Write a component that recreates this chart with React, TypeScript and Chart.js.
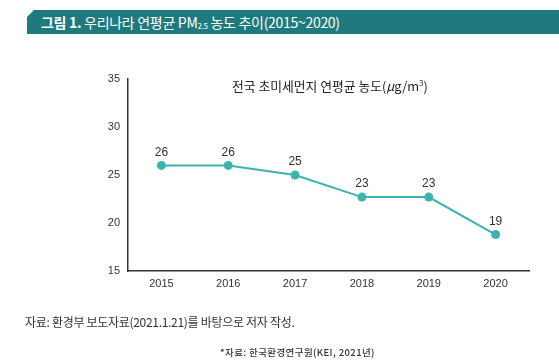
import React, { useEffect, useRef } from "react";
import { Chart, registerables } from "chart.js";

Chart.register(...registerables);

const years = ["2015", "2016", "2017", "2018", "2019", "2020"];
const pm25Values = [26, 26, 25, 22.7, 22.7, 18.8];
const pm25Labels = ["26", "26", "25", "23", "23", "19"];
const yTicks = [15, 20, 25, 30, 35];

const KR = "'Noto Sans CJK KR', 'Noto Sans', sans-serif";
const LAT = "'Liberation Sans', Arial, sans-serif";

const valueLabelPlugin = {
  id: "valueLabels",
  afterDatasetsDraw(chart: any) {
    const ctx = chart.ctx;
    const meta = chart.getDatasetMeta(0);
    ctx.save();
    ctx.font = "12px " + LAT;
    ctx.fillStyle = "#333";
    ctx.textAlign = "center";
    ctx.textBaseline = "middle";
    meta.data.forEach((pt: any, i: number) => {
      ctx.fillText(pm25Labels[i], pt.x, pt.y - 13);
    });
    ctx.restore();
  },
};

export default function App() {
  const ref = useRef<HTMLCanvasElement>(null);
  useEffect(() => {
    if (!ref.current) return;
    const chart = new Chart(ref.current, {
      type: "line",
      data: {
        labels: years,
        datasets: [
          {
            data: pm25Values,
            borderColor: "#3cb3ad",
            backgroundColor: "#3cb3ad",
            borderWidth: 2,
            pointRadius: 4.5,
            pointBorderWidth: 0,
            pointBackgroundColor: "#3cb3ad",
            tension: 0,
          },
        ],
      },
      options: {
        responsive: false,
        animation: false,
        layout: { padding: { left: 0, right: 30, top: 79, bottom: 63 } },
        plugins: { legend: { display: false }, tooltip: { enabled: false }, title: { display: false } },
        scales: {
          x: {
            offset: true,
            grid: { display: false, drawTicks: false },
            border: { display: true, color: "#333", width: 1.5 },
            ticks: { color: "#333", font: { size: 11, family: LAT }, padding: 6 },
            afterFit: (s: any) => {
              s.height = 30;
            },
          },
          y: {
            min: 15,
            max: 35,
            afterBuildTicks: (s: any) => {
              s.ticks = yTicks.map((v) => ({ value: v }));
            },
            grid: { display: false, drawTicks: false },
            border: { display: true, color: "#333", width: 1.5 },
            ticks: { color: "#333", font: { size: 11, family: LAT }, padding: 8 },
            afterFit: (s: any) => {
              s.width = 128;
            },
          },
        },
      },
      plugins: [valueLabelPlugin],
    });
    return () => chart.destroy();
  }, []);

  return (
    <div
      style={{
        position: "fixed",
        left: 0,
        top: 0,
        width: 559,
        height: 364,
        background: "#fff",
        overflow: "hidden",
        fontFamily: KR,
      }}
    >
      <div
        style={{
          position: "absolute",
          left: 27,
          top: 10,
          width: 532,
          height: 24,
          background: "#1f7a7e",
          clipPath: "polygon(7px 0, 100% 0, 100% 100%, 0 100%, 0 7px)",
        }}
      />
      <div
        style={{
          position: "absolute",
          left: 41,
          top: 10,
          height: 24,
          lineHeight: "24px",
          color: "#fff",
          fontSize: 14,
          whiteSpace: "nowrap",
          letterSpacing: -0.3,
        }}
      >
        <b>그림 1.</b> 우리나라 연평균 PM<sub style={{ fontSize: 8, verticalAlign: "-1px", lineHeight: 0 }}>2.5</sub> 농도 추이(2015~2020)
      </div>
      <canvas ref={ref} width={559} height={364} style={{ position: "absolute", left: 0, top: 0 }} />
      <div
        style={{
          position: "absolute",
          left: 230,
          width: 200,
          top: 76,
          textAlign: "center",
          fontSize: 12.8,
          color: "#222",
          whiteSpace: "nowrap",
        }}
      >
        전국 초미세먼지 연평균 농도(<i>μ</i>g/m<sup style={{ fontSize: 8, lineHeight: 0 }}>3</sup>)
      </div>
      <div
        style={{
          position: "absolute",
          left: 25,
          top: 313,
          fontSize: 12,
          color: "#333",
          whiteSpace: "nowrap",
          letterSpacing: -0.3,
        }}
      >
        자료: 환경부 보도자료(2021.1.21)를 바탕으로 저자 작성.
      </div>
      <div
        style={{
          position: "absolute",
          left: 220,
          top: 345,
          fontSize: 9.5,
          fontWeight: 500,
          color: "#333",
          whiteSpace: "nowrap",
          letterSpacing: 0.4,
        }}
      >
        *자료: 한국환경연구원(KEI, 2021년)
      </div>
    </div>
  );
}
